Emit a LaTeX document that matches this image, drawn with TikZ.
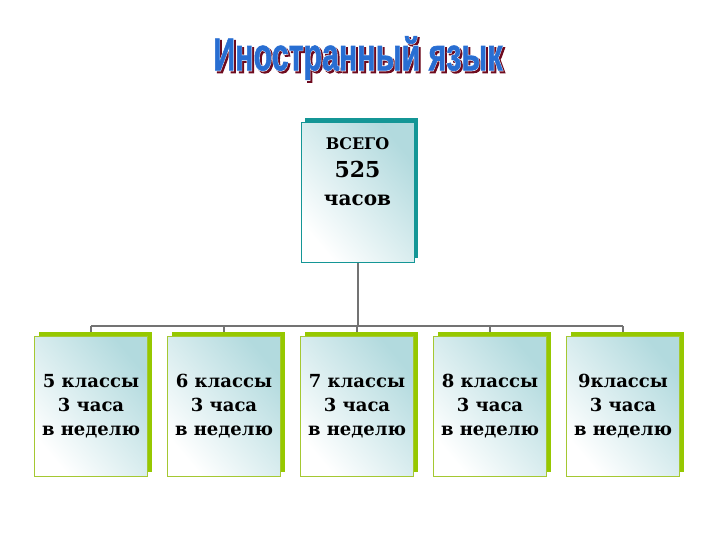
\documentclass[tikz,border=0pt]{standalone}
\usepackage{fontspec}
\setmainfont{DejaVu Serif}
\newfontfamily\titlefont[BoldFeatures={FakeBold=1.5}]{Liberation Sans}
\newfontfamily\titlerim[BoldFeatures={FakeBold=4}]{Liberation Sans}
\usetikzlibrary{shadows,backgrounds}
\definecolor{tealedge}{RGB}{20,150,150}
\definecolor{greenedge}{RGB}{165,200,50}
\definecolor{greenshadow}{RGB}{150,200,0}
\definecolor{paleteal}{RGB}{178,218,222}
\definecolor{busgray}{RGB}{115,115,115}
\definecolor{titleblue}{RGB}{40,110,210}
\definecolor{titlered}{RGB}{110,10,30}
\begin{document}
\begin{tikzpicture}[x=1pt,y=-1pt,
	box/.style={rectangle, minimum width=113pt, minimum height=140pt, inner sep=0pt,
		top color=paleteal, bottom color=white, shading angle=-50},
	topbox/.style={box, draw=tealedge, line width=0.8pt,
		drop shadow={shadow xshift=4pt, shadow yshift=4.5pt, fill=tealedge, opacity=1}},
	classbox/.style={box, draw=greenedge, line width=1pt,
		drop shadow={shadow xshift=4.5pt, shadow yshift=4.5pt, fill=greenshadow, opacity=1}},
	bus/.style={busgray, line width=2pt},
	title/.style={font=\titlefont\bfseries\fontsize{46}{46}\selectfont, xscale=0.66, inner sep=0pt},
	titlerim/.style={title, font=\titlerim\bfseries\fontsize{46}{46}\selectfont}]
	\useasboundingbox (0,0) rectangle (720,540);

	% title with outline and shadow
	\node[titlerim, text=titlered] at (360,60) {Иностранный язык};
	\node[titlerim, text=white] at (358,58) {Иностранный язык};
	\node[title, text=titleblue] (head) at (358,58) {Иностранный язык};

	\node[topbox] (total) at (357.5,192.5) {};
	\node[font=\bfseries\fontsize{18}{28}\selectfont, align=center, anchor=north]
		at ([yshift=-12pt]total.north)
		{{\fontsize{16}{18}\selectfont ВСЕГО}\\
		 {\fontsize{22}{24}\selectfont 525}\\
		 {\fontsize{20}{22}\selectfont часов}};

	\foreach \i/\txt in {1/5 классы, 2/6 классы, 3/7 классы, 4/8 классы, 5/9классы}
		\node[classbox, font=\bfseries\fontsize{18}{24}\selectfont, align=center]
			(class\i) at (91+133*\i-133,406) {\txt\\3 часа\\в неделю};

	\coordinate (fork) at (357.5,326);
	\begin{scope}[on background layer]
		\draw[bus] (total.south) -- (fork);
		\draw[bus] (class1.north |- fork) -- (class5.north |- fork);
		\foreach \i in {1,...,5}
			\draw[bus] (class\i.north |- fork) -- (class\i.north);
	\end{scope}
\end{tikzpicture}
\end{document}
